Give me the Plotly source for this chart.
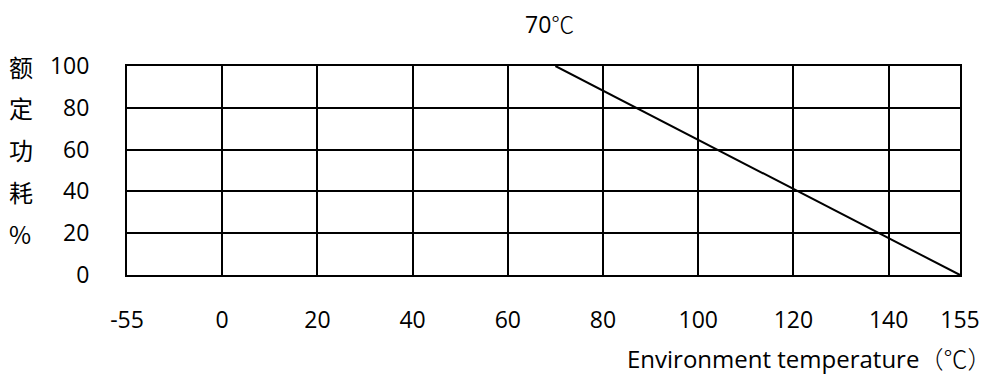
import plotly.graph_objects as go

# ---- data ----
temp_ticks = [-55, 0, 20, 40, 60, 80, 100, 120, 140, 155]
temp_tick_labels = ["-55", "0", "20", "40", "60", "80", "100", "120", "140", "155"]
power_ticks = [0, 20, 40, 60, 80, 100]
power_tick_labels = ["0", "20", "40", "60", "80", "100"]
curve_temp = [70, 155]
curve_power = [100, 0]
y_title_chars = ["额", "定", "功", "耗", "%"]
title_num = "70"
unit = "℃"
x_title = "Environment temperature"

# axis break: everything below 0 is compressed to one grid step (-20)
BREAK_POS = -20
def axis_pos(t):
    return t if t >= 0 else BREAK_POS

FONT = "Open Sans, Noto Sans CJK SC, sans-serif"
CJK = "Noto Sans CJK SC"
FS = 23

def cjk(s):
    return f"<span style='font-family:{CJK};font-weight:300'>{s}</span>"

fig = go.Figure()
fig.add_trace(go.Scatter(
    x=[axis_pos(t) for t in curve_temp], y=curve_power,
    mode="lines", line=dict(color="black", width=2),
    showlegend=False, hoverinfo="skip", cliponaxis=False,
))

fig.update_layout(
    width=992, height=374, autosize=False,
    margin=dict(l=127, r=25, t=66, b=99),
    paper_bgcolor="white", plot_bgcolor="white",
    font=dict(family=FONT, size=FS, color="black"),
    showlegend=False,
)
fig.update_xaxes(
    range=[BREAK_POS, 155],
    tickvals=[axis_pos(t) for t in temp_ticks], ticktext=temp_tick_labels,
    showgrid=True, gridcolor="black", gridwidth=2,
    showline=True, linecolor="black", linewidth=2, mirror=True,
    ticks="outside", ticklen=23, tickcolor="rgba(0,0,0,0)",
    zeroline=False, tickfont=dict(family=FONT, size=FS, color="black"),
)
fig.update_yaxes(
    range=[0, 100],
    tickvals=power_ticks, ticktext=power_tick_labels,
    showgrid=True, gridcolor="black", gridwidth=2,
    showline=True, linecolor="black", linewidth=2, mirror=True,
    ticks="outside", ticklen=31, tickcolor="rgba(0,0,0,0)",
    zeroline=False, tickfont=dict(family=FONT, size=FS, color="black"),
)

# vertical y-axis title, one character per tick row
for ch, yv in zip(y_title_chars, power_ticks[::-1]):
    fig.add_annotation(
        x=0, xref="paper", y=yv, yref="y", text=ch, showarrow=False,
        xanchor="left", yanchor="middle", xshift=-120,
        font=dict(family=CJK + ", Open Sans", size=24, color="black"),
    )

fig.add_annotation(
    x=curve_temp[0], xref="x", y=1, yref="paper", text=title_num + cjk(unit),
    showarrow=False, xanchor="center", yanchor="bottom", yshift=24, xshift=-6,
    font=dict(family=FONT, size=FS, color="black"),
)
fig.add_annotation(
    x=1, xref="paper", y=0, yref="paper",
    text=x_title + cjk("（" + unit + "）"),
    showarrow=False, xanchor="right", yanchor="top", yshift=-63, xshift=33,
    font=dict(family=FONT, size=24, color="black"),
)

fig.write_html(
    "out.html",
    config={"displayModeBar": False, "responsive": False},
    post_script="document.body.style.margin='0';document.body.style.padding='0';document.body.style.overflow='hidden';",
)
